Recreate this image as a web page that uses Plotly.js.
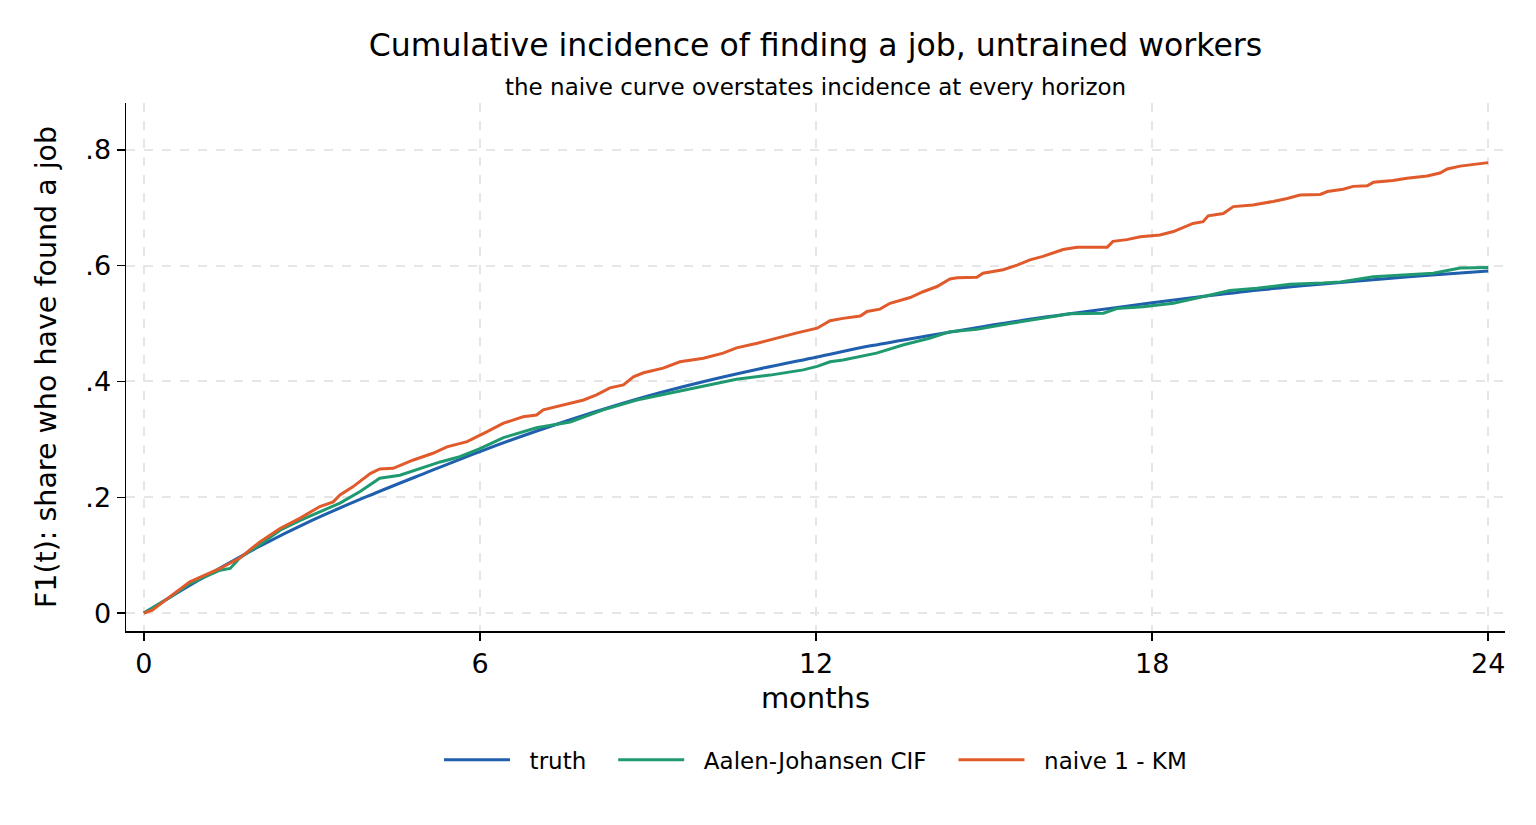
<!DOCTYPE html>
<html>
<head>
<meta charset="utf-8">
<script src="https://cdn.plot.ly/plotly-3.0.1.min.js"></script>
<style>
  html, body { margin: 0; padding: 0; background: #fff; }
  #graph { width: 1536px; height: 825px; }
</style>
</head>
<body>
<div id="graph"></div>
<script>
// truth: smooth cumulative incidence, read at whole months
const truthT = [0, 1, 2, 3, 4, 5, 6, 7, 8, 9, 10, 11, 12, 13, 14, 15, 16, 17, 18, 19, 20, 21, 22, 23, 24];
const truthF = [0, .058, .112, .160, .202, .241, .279, .314, .346, .375, .400, .422, .442, .462, .479,
                .495, .510, .523, .536, .548, .559, .568, .576, .584, .591];

// Aalen-Johansen CIF (green)
const ajT = [0, 0.46, 0.82, 1.36, 1.54, 1.71, 2.07, 2.43, 2.79, 3.14, 3.5, 3.86, 4.21, 4.57, 4.93, 5.29,
             5.64, 6.0, 6.42, 7.01, 7.61, 8.2, 8.8, 9.39, 9.99, 10.58, 11.18, 11.77, 12.02, 12.25, 12.48,
             13.08, 13.55, 14.04, 14.39, 14.87, 15.46, 16.05, 16.54, 17.13, 17.37, 17.84, 18.38, 18.98,
             19.39, 19.87, 20.46, 21.05, 21.36, 21.95, 22.55, 23.02, 23.5, 24];
const ajF = [0, .027, .051, .074, .077, .095, .118, .143, .160, .175, .190, .210, .233, .238, .250, .261,
             .270, .284, .303, .320, .330, .351, .368, .380, .391, .404, .411, .420, .426, .434, .437,
             .449, .463, .475, .486, .490, .500, .509, .517, .518, .526, .529, .535, .548,
             .557, .561, .568, .570, .572, .581, .584, .587, .596, .597];

// naive 1 - KM (orange)
const kmT = [0, 0.15, 0.46, 0.82, 1.36, 1.71, 2.07, 2.43, 2.79, 3.14, 3.38, 3.5, 3.73, 4.04, 4.21, 4.45,
             4.8, 5.16, 5.41, 5.77, 6.12, 6.42, 6.77, 7.01, 7.13, 7.49, 7.85, 8.08, 8.32, 8.56, 8.74, 8.92,
             9.27, 9.57, 9.99, 10.34, 10.58, 10.95, 11.3, 11.66, 12.02, 12.25, 12.48, 12.79, 12.91, 13.14,
             13.32, 13.68, 13.91, 14.16, 14.39, 14.52, 14.87, 14.98, 15.34, 15.59, 15.82, 16.05, 16.41,
             16.66, 17.2, 17.3, 17.55, 17.79, 18.14, 18.38, 18.73, 18.91, 19.0, 19.27, 19.45, 19.8, 20.16,
             20.41, 20.64, 21.0, 21.13, 21.41, 21.59, 21.84, 21.95, 22.3, 22.55, 22.91, 23.14, 23.27,
             23.5, 23.73, 24];
const kmF = [0, .005, .028, .054, .077, .095, .123, .146, .164, .184, .192, .204, .218, .241, .249, .250,
             .264, .276, .287, .296, .313, .328, .339, .342, .351, .359, .368, .377, .389, .394, .408, .415,
             .423, .434, .440, .449, .458, .466, .475, .484, .492, .505, .509, .513, .521, .525,
             .535, .545, .555, .564, .577, .579, .580, .587, .593, .601, .610, .616, .628,
             .632, .632, .642, .645, .650, .653, .659, .673, .676, .686, .690, .702, .705, .711,
             .716, .722, .723, .728, .732, .737, .738, .744, .747, .751, .755, .760, .767,
             .772, .775, .778];

const xTicks = [0, 6, 12, 18, 24];
const yTicks = [0, .2, .4, .6, .8];
const yTickText = ['0', '.2', '.4', '.6', '.8'];

const FONT = 'DejaVu Sans, sans-serif';
// non-breaking spaces: gap between legend line and label, and between entries
const PRE = '\u00a0\u00a0';
const GAP = '\u00a0\u00a0\u00a0';

const traces = [
  { x: truthT, y: truthF, mode: 'lines', name: PRE + 'truth' + GAP,
    line: { color: '#1f5fae', width: 3, shape: 'spline' } },
  { x: ajT, y: ajF, mode: 'lines', name: PRE + 'Aalen-Johansen CIF' + GAP,
    line: { color: '#1f9a70', width: 3 } },
  { x: kmT, y: kmF, mode: 'lines', name: PRE + 'naive 1 - KM',
    line: { color: '#e05a2b', width: 3 } }
];

const layout = {
  width: 1536,
  height: 825,
  paper_bgcolor: '#ffffff',
  plot_bgcolor: '#ffffff',
  font: { family: FONT, color: '#000' },
  margin: { l: 126, r: 31, t: 103, b: 194, pad: 0 },
  title: {
    text: 'Cumulative incidence of finding a job, untrained workers',
    font: { family: FONT, size: 31.5, color: '#000' },
    x: 0.5, xref: 'paper', xanchor: 'center',
    y: 1 - 45 / 825, yref: 'container', yanchor: 'middle'
  },
  annotations: [{
    text: 'the naive curve overstates incidence at every horizon',
    xref: 'paper', yref: 'paper', x: 0.5, y: 1.03,
    xanchor: 'center', yanchor: 'middle', showarrow: false,
    font: { family: FONT, size: 23, color: '#000' }
  }],
  xaxis: {
    range: [-0.32, 24.3],
    tickvals: xTicks,
    ticks: 'outside', ticklen: 8, tickwidth: 1.5, tickcolor: '#000',
    tickfont: { size: 27 },
    showline: true, linecolor: '#000', linewidth: 1.5,
    showgrid: true, gridcolor: '#e6e6e6', gridwidth: 2, griddash: 'dash',
    zeroline: false,
    title: { text: 'months', font: { size: 29 }, standoff: 10 }
  },
  yaxis: {
    range: [-0.031, 0.881],
    tickvals: yTicks, ticktext: yTickText,
    ticks: 'outside', ticklen: 8, tickwidth: 1.5, tickcolor: '#000',
    tickfont: { size: 27 },
    showline: true, linecolor: '#000', linewidth: 1.5,
    showgrid: true, gridcolor: '#e6e6e6', gridwidth: 2, griddash: 'dash',
    zeroline: false,
    title: { text: 'F1(t): share who have found a job', font: { size: 28.5 }, standoff: 20 }
  },
  showlegend: true,
  legend: {
    orientation: 'h',
    x: 0.5, xanchor: 'center',
    y: -0.244, yanchor: 'middle',
    font: { family: FONT, size: 23, color: '#000' },
    itemwidth: 66
  }
};

Plotly.newPlot('graph', traces, layout, { displayModeBar: false, staticPlot: true });
</script>
</body>
</html>
